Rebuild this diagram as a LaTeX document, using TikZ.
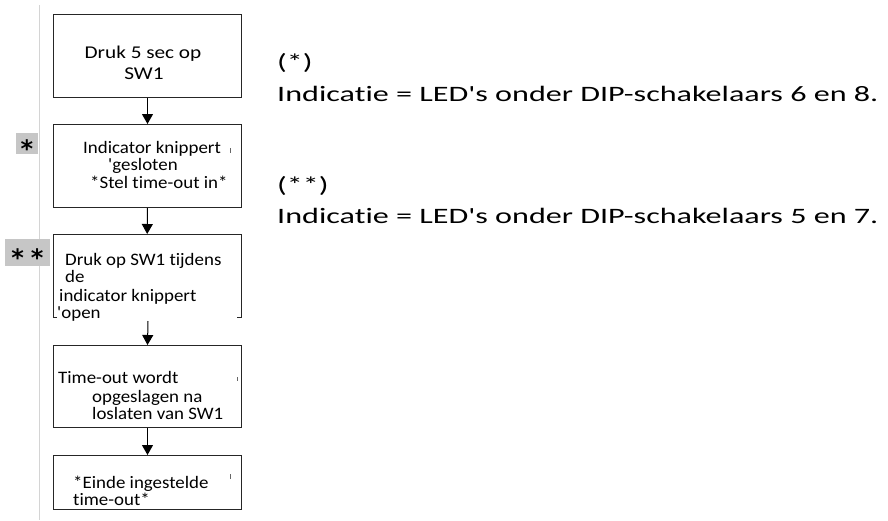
\documentclass[tikz,border=0pt]{standalone}
\usepackage{fontspec}
\setmainfont[Ligatures=NoCommon]{Carlito}
\newfontfamily\boxfont[FakeStretch=1.08,Ligatures=NoCommon]{Carlito}
\newfontfamily\topfont[FakeStretch=1.18,Ligatures=NoCommon]{Carlito}
\newfontfamily\widefont[FakeStretch=1.46,Ligatures=NoCommon]{Carlito}
\newfontfamily\starfont{DejaVu Sans}
\usetikzlibrary{arrows.meta}
\definecolor{starbg}{HTML}{C6C6C6}
\definecolor{rulegray}{HTML}{D4D4D4}
\tikzset{
  stepbox/.style={draw=black!85, line width=1pt, rectangle, inner sep=0pt, anchor=north west, minimum width=188pt},
  openbox/.style={rectangle, inner sep=0pt, anchor=north west, minimum width=188pt},
  btext/.style={anchor=base west, inner sep=0pt, font=\boxfont\fontsize{17.5}{20}\selectfont},
  ttext/.style={anchor=base, inner sep=0pt, font=\topfont\fontsize{18}{20}\selectfont},
  rtext/.style={anchor=base west, inner sep=0pt, font=\widefont\fontsize{22}{26}\selectfont},
  flow/.style={draw=black, line width=1pt, -{Triangle[width=11pt,length=10pt]}},
  starbox/.style={fill=starbg, inner sep=0pt, anchor=north west},
  startext/.style={inner sep=0pt, anchor=base, font=\starfont\bfseries\fontsize{24}{24}\selectfont},
  tick/.style={draw=black!60, line width=0.6pt},
}
\begin{document}
\begin{tikzpicture}[x=1pt,y=-1pt]
\useasboundingbox (0,0) rectangle (888,520);
% margin rule
\coordinate (rtop) at (39,5);
\coordinate (rbot) at (39,520);
\draw[rulegray, line width=1pt] (rtop) -- (rbot);
% star markers
\node[starbox, minimum width=22pt, minimum height=21pt] (s1) at (16,133) {};
\node[startext] (s1t) at (27,157) {*};
\node[starbox, minimum width=45pt, minimum height=27pt] (s2) at (5,239) {};
\node[startext] (s2t) at (27.5,266) {*\hspace{7pt}*};
% boxes
\node[stepbox, minimum height=83pt] (b1) at (53,14) {};
\node[stepbox, minimum height=83pt] (b2) at (53,124) {};
\node[openbox, minimum height=83pt] (b3) at (53,234) {};
\draw[draw=black!85, line width=1pt] ([xshift=4pt]b3.south west) -- (b3.south west) -- (b3.north west) -- (b3.north east) -- (b3.south east) -- ([xshift=-4pt]b3.south east);
\node[stepbox, minimum height=82pt] (b4) at (53,345) {};
\node[stepbox, minimum height=54pt] (b5) at (53,455) {};
% box texts
\node[ttext] (t1a) at (143,58) {Druk 5 sec op};
\node[ttext] (t1b) at (144,79) {SW1};
\node[btext] (t2a) at (83,153) {Indicator knippert};
\node[btext] (t2b) at (108,170.5) {'gesloten};
\node[btext] (t2c) at (90,188) {*Stel time-out in*};
\node[btext] (t3a) at (65,265) {Druk op SW1 tijdens};
\node[btext] (t3b) at (65,282) {de};
\node[btext] (t3c) at (59,301) {indicator knippert};
\node[btext] (t3d) at (57,318) {'open};
\node[btext] (t4a) at (58,383) {Time-out wordt};
\node[btext] (t4b) at (92,402) {opgeslagen na};
\node[btext] (t4c) at (92,419) {loslaten van SW1};
\node[btext] (t5a) at (73,488) {*Einde ingestelde};
\node[btext] (t5b) at (73,505) {time-out*};
% small ticks
\coordinate (k2a) at (230,148); \coordinate (k2b) at (230,153);
\coordinate (k4a) at (237,377); \coordinate (k4b) at (237,381);
\coordinate (k5a) at (230,474); \coordinate (k5b) at (230,479);
\draw[tick] (k2a) -- (k2b);
\draw[tick] (k4a) -- (k4b);
\draw[tick] (k5a) -- (k5b);
% connectors
\coordinate (b3out) at (148,321);
\draw[flow] (b1.south) -- (b2.north);
\draw[flow] (b2.south) -- (b3.north);
\draw[flow] (b3out) -- (b4.north);
\draw[flow] (b4.south) -- (b5.north);
% right notes
\node[rtext] (n1a) at (277,69) {(*)};
\node[rtext] (n1b) at (277,101) {Indicatie = LED's onder DIP-schakelaars 6 en 8.};
\node[rtext] (n2a) at (277,192) {(**)};
\node[rtext] (n2b) at (277,223) {Indicatie = LED's onder DIP-schakelaars 5 en 7.};
\end{tikzpicture}
\end{document}
